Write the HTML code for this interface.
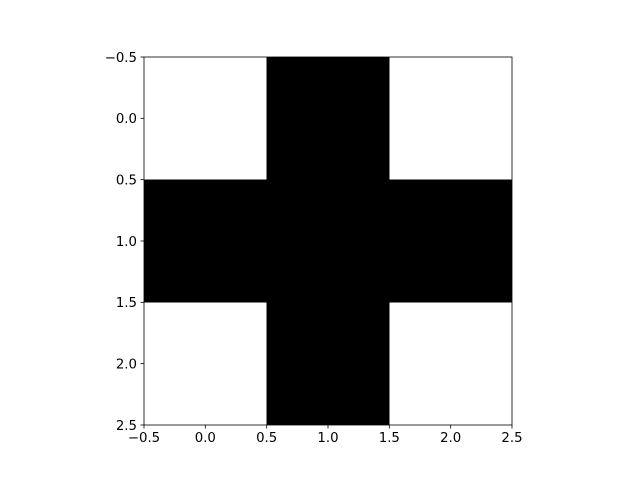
<!DOCTYPE html>
<html><head><meta charset="utf-8"><style>
body{margin:0;background:#fff}
svg{display:block;font-family:"DejaVu Sans","Liberation Sans",sans-serif}
</style></head><body>
<svg id="chart" width="640" height="478"></svg>
<script>
const cells = [[0,1,0],[1,1,1],[0,1,0]];
const ticks = [-0.5,0,0.5,1,1.5,2,2.5];
const tickLabels = ["−0.5","0.0","0.5","1.0","1.5","2.0","2.5"];
const L=144,R=512,T=57,B=425, vmin=-0.5, vmax=2.5;
const sx=v=>L+(v-vmin)/(vmax-vmin)*(R-L);
const sy=v=>T+(v-vmin)/(vmax-vmin)*(B-T);
const svg=document.getElementById('chart');
const NS='http://www.w3.org/2000/svg';
function mk(t,a){const e=document.createElementNS(NS,t);for(const k in a)e.setAttribute(k,a[k]);svg.appendChild(e);return e;}
cells.forEach((row,r)=>row.forEach((v,c)=>{
  const e=mk('rect',{x:sx(c-0.5),y:sy(r-0.5),width:sx(c+0.5)-sx(c-0.5),height:sy(r+0.5)-sy(r-0.5),fill:v?'#000':'#fff','shape-rendering':'crispEdges'});
  
  
}));
const frame=mk('rect',{x:L,y:T,width:R-L,height:B-T,fill:'none',stroke:'#000','stroke-width':0.8});


ticks.forEach((t,i)=>{
  const x=sx(t),y=sy(t);
  const xt=mk('line',{x1:x,y1:B,x2:x,y2:B+3.5,stroke:'#000','stroke-width':0.8});
  
  
  const xl=mk('text',{x:x,y:B+17,'text-anchor':'middle','font-size':'13.3px',fill:'#000'});
  xl.textContent=tickLabels[i];
  
  
  const yt=mk('line',{x1:L-3.5,y1:y,x2:L,y2:y,stroke:'#000','stroke-width':0.8});
  
  
  const yl=mk('text',{x:L-7,y:y+4.8,'text-anchor':'end','font-size':'13.3px',fill:'#000'});
  yl.textContent=tickLabels[i];
  
  
});
</script>
</body></html>
